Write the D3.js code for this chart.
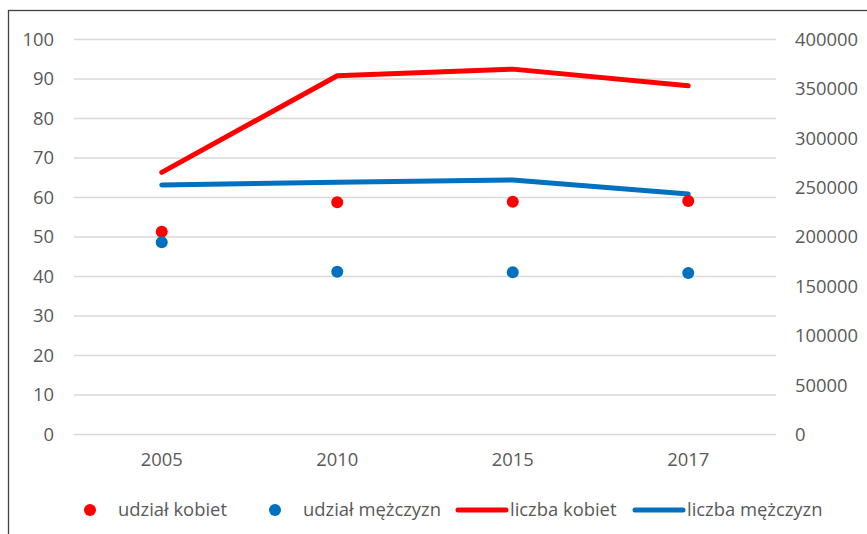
<!DOCTYPE html>
<html>
<meta charset="utf-8">
<head>
    <script src="https://d3js.org/d3.v7.min.js"></script>
    <style>
        body { margin: 0; background: white; }
        text { font-family: "Open Sans", sans-serif; fill: #595959; }
    </style>
</head>
<body>
    <script>
        var years = ["2005", "2010", "2015", "2017"];
        var udzialKobiet = [51.3, 58.8, 58.9, 59.1];
        var udzialMezczyzn = [48.7, 41.2, 41.1, 40.9];
        var liczbaKobiet = [265500, 363300, 370000, 353200];
        var liczbaMezczyzn = [252700, 255400, 257700, 243500];
        var leftTicks = [0, 10, 20, 30, 40, 50, 60, 70, 80, 90, 100];
        var rightTicks = [0, 50000, 100000, 150000, 200000, 250000, 300000, 350000, 400000];

        var width = 867,
            height = 534,
            red = "#ff0000",
            blue = "#0070c0",
            fontSize = 18.4;

        var svg = d3.select("body").append("svg")
            .attr("width", width)
            .attr("height", height);

        // chart border (cropped at right/bottom)
        svg.append("rect")
            .attr("x", 8.5)
            .attr("y", 10.5)
            .attr("width", 900)
            .attr("height", 600)
            .attr("fill", "white")
            .attr("stroke", "#404040")
            .attr("stroke-width", 1.3);

        var x = d3.scaleBand()
            .domain(years)
            .range([74, 776]);

        var yLeft = d3.scaleLinear()
            .domain([0, 100])
            .range([434.5, 39.5]);

        var yRight = d3.scaleLinear()
            .domain([0, 400000])
            .range([434.5, 39.5]);

        var cx = d => x(d) + x.bandwidth() / 2;

        // gridlines
        svg.append("g")
            .selectAll("line")
            .data(leftTicks)
            .enter()
            .append("line")
            .attr("x1", 74)
            .attr("x2", 776)
            .attr("y1", d => yLeft(d))
            .attr("y2", d => yLeft(d))
            .attr("stroke", "#d9d9d9")
            .attr("stroke-width", 1.3);

        var leftAxis = svg.append("g")
            .attr("transform", "translate(62,0)")
            .call(d3.axisLeft(yLeft).tickValues(leftTicks).tickSize(0).tickPadding(8));

        var rightAxis = svg.append("g")
            .attr("transform", "translate(786,0)")
            .call(d3.axisRight(yRight).tickValues(rightTicks).tickSize(0).tickPadding(9).tickFormat(d3.format("d")));

        var bottomAxis = svg.append("g")
            .attr("transform", "translate(0,434.5)")
            .call(d3.axisBottom(x).tickSize(0).tickPadding(18));

        [leftAxis, rightAxis, bottomAxis].forEach(function(a) {
            a.select(".domain").remove();
            a.selectAll("text")
                .style("font-size", fontSize + "px")
                .attr("fill", "#595959");
        });

        // lines on right axis
        function drawLine(values, color) {
            var line = d3.line()
                .x((d, i) => cx(years[i]))
                .y(d => yRight(d));
            svg.append("path")
                .datum(values)
                .attr("d", line)
                .attr("fill", "none")
                .attr("stroke", color)
                .attr("stroke-width", 5)
                .attr("stroke-linecap", "round")
                .attr("stroke-linejoin", "round");
        }
        drawLine(liczbaKobiet, red);
        drawLine(liczbaMezczyzn, blue);

        // dots on left axis
        function drawDots(values, color) {
            svg.append("g")
                .selectAll("circle")
                .data(values)
                .enter()
                .append("circle")
                .attr("cx", (d, i) => cx(years[i]))
                .attr("cy", d => yLeft(d))
                .attr("r", 6)
                .attr("fill", color);
        }
        drawDots(udzialKobiet, red);
        drawDots(udzialMezczyzn, blue);

        // legend
        var legendY = 510;
        var legend = [
            {name: "udział kobiet", color: red, type: "dot", mx: 90, tx: 118},
            {name: "udział mężczyzn", color: blue, type: "dot", mx: 275, tx: 303},
            {name: "liczba kobiet", color: red, type: "line", mx: 458, tx: 510},
            {name: "liczba mężczyzn", color: blue, type: "line", mx: 635, tx: 687}
        ];

        var lg = svg.append("g").selectAll("g")
            .data(legend)
            .enter()
            .append("g");

        lg.filter(d => d.type == "dot")
            .append("circle")
            .attr("cx", d => d.mx)
            .attr("cy", legendY)
            .attr("r", 6)
            .attr("fill", d => d.color);

        lg.filter(d => d.type == "line")
            .append("line")
            .attr("x1", d => d.mx)
            .attr("x2", d => d.mx + 48)
            .attr("y1", legendY)
            .attr("y2", legendY)
            .attr("stroke", d => d.color)
            .attr("stroke-width", 5)
            .attr("stroke-linecap", "round");

        lg.append("text")
            .attr("x", d => d.tx)
            .attr("y", legendY)
            .attr("dy", "0.35em")
            .style("font-size", fontSize + "px")
            .text(d => d.name);
    </script>
</body>
</html>
